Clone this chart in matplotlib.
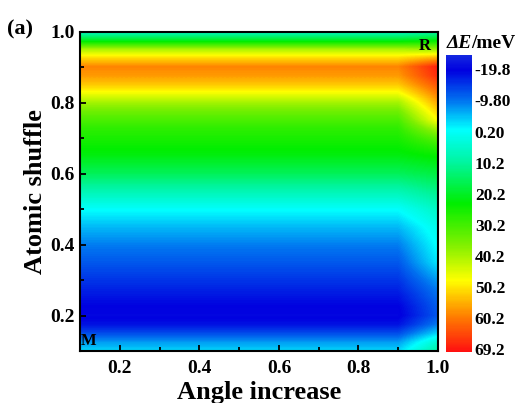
import numpy as np
import matplotlib
matplotlib.use("Agg")
import matplotlib.pyplot as plt
from matplotlib.colors import LinearSegmentedColormap, Normalize

plt.rcParams['font.family'] = ['Liberation Serif', 'DejaVu Serif']
plt.rcParams['font.weight'] = 'bold'

# ---- data ----
x_vals = [0.1, 0.2, 0.3, 0.4, 0.5, 0.6, 0.7, 0.8, 0.9, 1.0]
y_vals = [0.100, 0.125, 0.150, 0.175, 0.200, 0.225, 0.250, 0.275, 0.300, 0.325,
          0.350, 0.375, 0.400, 0.425, 0.450, 0.475, 0.500, 0.525, 0.550, 0.575,
          0.600, 0.625, 0.650, 0.675, 0.700, 0.725, 0.750, 0.775, 0.800, 0.825,
          0.850, 0.875, 0.900, 0.925, 0.950, 0.975, 1.000]
# energy profile (meV) along atomic shuffle for angle increase 0.1 ... 0.9
E_main = [-3, -7, -13, -18, -20, -19.5, -18, -16.5, -15, -13.5,
          -12, -10.5, -9, -7, -5, -2.5, 0, 4, 8, 12,
          16, 19, 22, 24, 26, 28, 31, 35, 40, 47,
          53, 57, 59, 51, 40, 20, 5]
# energy profile (meV) along atomic shuffle for angle increase 1.0
E_edge = [10, 5, -3, -9, -12, -11.5, -10.5, -9, -7, -4.5,
          -2, -1, 0, 1, 2, 4, 6, 9, 12, 15,
          18, 21, 24, 28, 33, 40, 48, 52, 56, 60,
          64, 68, 69.2, 55, 38, 22, 8]

cbar_ticks = [-19.8, -9.8, 0.2, 10.2, 20.2, 30.2, 40.2, 50.2, 60.2, 70.2]
cbar_labels = ['-19.8', '-9.80', '0.20', '10.2', '20.2', '30.2', '40.2', '50.2', '60.2', '69.2']
x_ticks = [0.2, 0.4, 0.6, 0.8, 1.0]
y_ticks = [0.2, 0.4, 0.6, 0.8, 1.0]

# ---- grid ----
Z = np.empty((len(y_vals), len(x_vals)))
for j, xv in enumerate(x_vals):
    Z[:, j] = E_edge if xv >= 1.0 else E_main

cmap = LinearSegmentedColormap.from_list('rb', [
    (0.00, '#1428e0'),
    (0.05, '#0000e0'),
    (0.15, '#0070f0'),
    (0.25, '#00ffff'),
    (0.36, '#00f5a0'),
    (0.50, '#00ee00'),
    (0.64, '#80f000'),
    (0.76, '#ffff00'),
    (0.88, '#ff8000'),
    (1.00, '#ff1010'),
])
norm = Normalize(vmin=-24.4, vmax=71.0)

dx = x_vals[1] - x_vals[0]
dy = y_vals[1] - y_vals[0]
fig = plt.figure(figsize=(5.23, 4.03), dpi=100)
ax = fig.add_axes([0.1534, 0.1278, 0.684, 0.7928])
ax.imshow(Z, cmap=cmap, norm=norm, origin='lower', aspect='auto',
          interpolation='bilinear', interpolation_stage='data',
          extent=[x_vals[0] - dx / 2, x_vals[-1] + dx / 2,
                  y_vals[0] - dy / 2, y_vals[-1] + dy / 2])
ax.set_xlim(0.1, 1.0)
ax.set_ylim(0.1, 1.0)
ax.set_xticks(x_ticks)
ax.set_yticks(y_ticks)
ax.set_xticks([0.3, 0.5, 0.7, 0.9], minor=True)
ax.set_yticks([0.3, 0.5, 0.7, 0.9], minor=True)
ax.set_xticklabels(['0.2', '0.4', '0.6', '0.8', '1.0'])
ax.set_yticklabels(['0.2', '0.4', '0.6', '0.8', '1.0'])
ax.tick_params(which='both', direction='in', labelsize=14, width=1.3, color='black')
ax.tick_params(which='major', length=4)
ax.tick_params(which='minor', length=3)
ax.tick_params(axis='x', pad=6)
ax.tick_params(axis='y', pad=4)
for s in ax.spines.values():
    s.set_linewidth(1.5)
ax.set_xlabel('Angle increase', fontsize=19, fontweight='bold', labelpad=3)
ax.set_ylabel('Atomic shuffle', fontsize=19, fontweight='bold', labelpad=2)

ax.text(0.966, 0.961, 'R', fontsize=12, fontweight='bold', ha='center', va='center')
ax.text(0.122, 0.129, 'M', fontsize=12, fontweight='bold', ha='center', va='center')

fig.text(7 / 523, 1 - 29 / 403, '(a)', fontsize=16, fontweight='bold', ha='left', va='center')

cax = fig.add_axes([0.8528, 0.1266, 0.0497, 0.737])
sm = matplotlib.cm.ScalarMappable(norm=norm, cmap=cmap)
cb = fig.colorbar(sm, cax=cax, ticks=cbar_ticks)
cb.ax.invert_yaxis()
cb.ax.set_yticklabels(cbar_labels)
cb.ax.tick_params(length=0, labelsize=12.5, pad=2)
cb.outline.set_visible(False)

t1 = fig.text(447 / 523, 1 - 44 / 403, 'ΔE', fontsize=14, fontweight='bold',
              fontstyle='italic', ha='left', va='center')
fig.canvas.draw()
ax.annotate('/meV', xy=(1, 0.5), xycoords=t1, xytext=(-1, 0), textcoords='offset points',
            fontsize=14, fontweight='bold', ha='left', va='center')

fig.savefig('out.png', dpi=100, facecolor='white')
